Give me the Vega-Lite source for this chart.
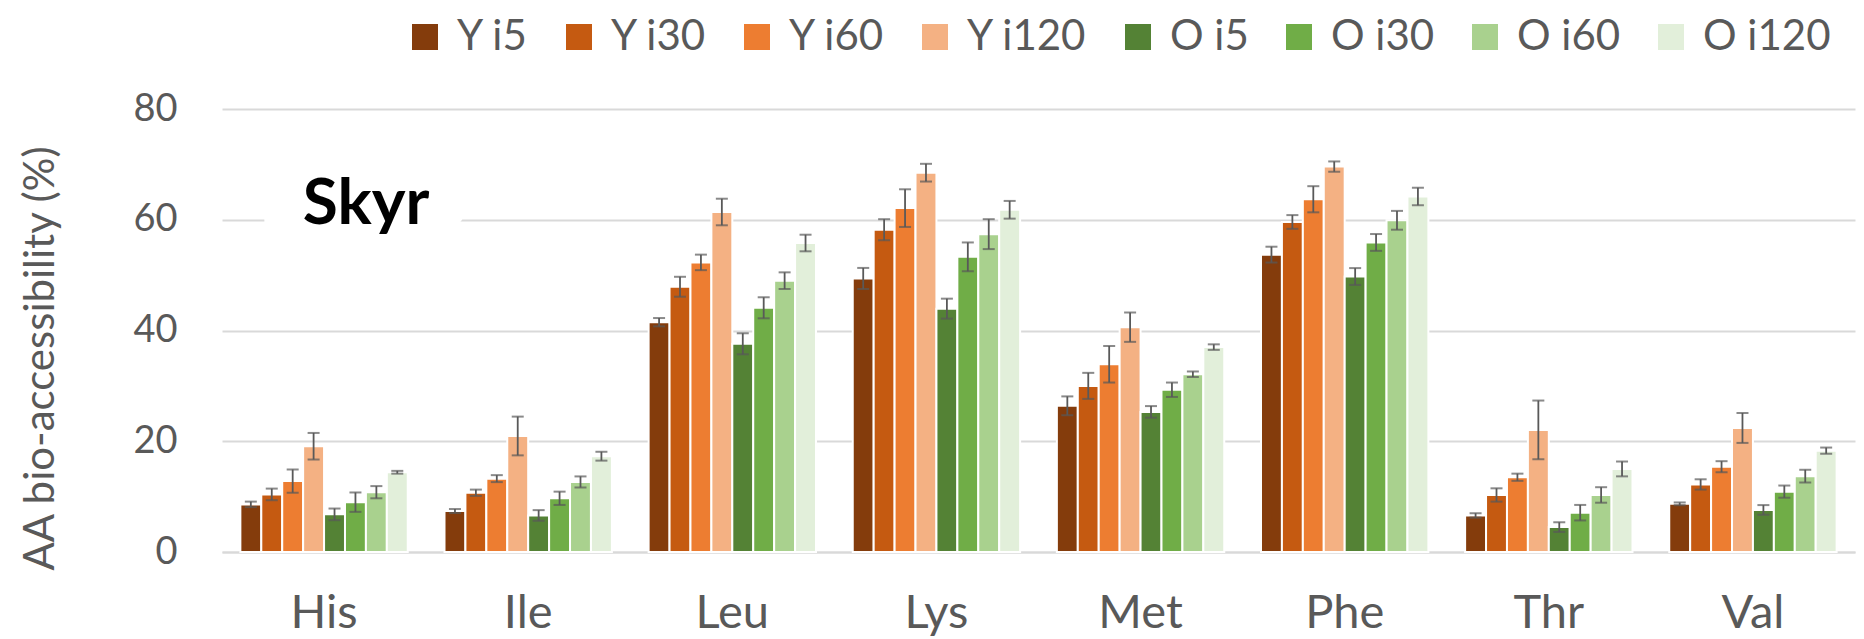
{
  "$schema": "https://vega.github.io/schema/vega-lite/v6.json",
  "width": 1633,
  "height": 443,
  "autosize": {"type": "none"},
  "padding": {"left": 222, "top": 109, "right": 9, "bottom": 87},
  "background": "white",
  "config": {"view": {"stroke": null}, "font": "Lato"},
  "data": {
    "values": [
      {"aa": "His", "s": "Y i5", "v": 8.6, "lo": 8.1, "hi": 9.1},
      {"aa": "His", "s": "Y i30", "v": 10.4, "lo": 9.35, "hi": 11.45},
      {"aa": "His", "s": "Y i60", "v": 12.8, "lo": 10.7, "hi": 14.9},
      {"aa": "His", "s": "Y i120", "v": 19.1, "lo": 16.7, "hi": 21.5},
      {"aa": "His", "s": "O i5", "v": 6.8, "lo": 5.75, "hi": 7.85},
      {"aa": "His", "s": "O i30", "v": 9.0, "lo": 7.25, "hi": 10.75},
      {"aa": "His", "s": "O i60", "v": 10.8, "lo": 9.7, "hi": 11.9},
      {"aa": "His", "s": "O i120", "v": 14.4, "lo": 14.15, "hi": 14.65},
      {"aa": "Ile", "s": "Y i5", "v": 7.4, "lo": 7.04, "hi": 7.76},
      {"aa": "Ile", "s": "Y i30", "v": 10.7, "lo": 10.13, "hi": 11.27},
      {"aa": "Ile", "s": "Y i60", "v": 13.25, "lo": 12.62, "hi": 13.88},
      {"aa": "Ile", "s": "Y i120", "v": 20.95, "lo": 17.45, "hi": 24.45},
      {"aa": "Ile", "s": "O i5", "v": 6.6, "lo": 5.64, "hi": 7.56},
      {"aa": "Ile", "s": "O i30", "v": 9.7, "lo": 8.5, "hi": 10.9},
      {"aa": "Ile", "s": "O i60", "v": 12.65, "lo": 11.65, "hi": 13.65},
      {"aa": "Ile", "s": "O i120", "v": 17.3, "lo": 16.5, "hi": 18.1},
      {"aa": "Leu", "s": "Y i5", "v": 41.5, "lo": 40.75, "hi": 42.25},
      {"aa": "Leu", "s": "Y i30", "v": 47.9, "lo": 46.1, "hi": 49.7},
      {"aa": "Leu", "s": "Y i60", "v": 52.3, "lo": 50.9, "hi": 53.7},
      {"aa": "Leu", "s": "Y i120", "v": 61.4, "lo": 59.0, "hi": 63.8},
      {"aa": "Leu", "s": "O i5", "v": 37.6, "lo": 35.7, "hi": 39.5},
      {"aa": "Leu", "s": "O i30", "v": 44.1, "lo": 42.2, "hi": 46.0},
      {"aa": "Leu", "s": "O i60", "v": 49.0, "lo": 47.5, "hi": 50.5},
      {"aa": "Leu", "s": "O i120", "v": 55.8, "lo": 54.3, "hi": 57.3},
      {"aa": "Lys", "s": "Y i5", "v": 49.4, "lo": 47.5, "hi": 51.3},
      {"aa": "Lys", "s": "Y i30", "v": 58.2, "lo": 56.3, "hi": 60.1},
      {"aa": "Lys", "s": "Y i60", "v": 62.1, "lo": 58.7, "hi": 65.5},
      {"aa": "Lys", "s": "Y i120", "v": 68.5, "lo": 66.9, "hi": 70.1},
      {"aa": "Lys", "s": "O i5", "v": 43.95, "lo": 42.15, "hi": 45.75},
      {"aa": "Lys", "s": "O i30", "v": 53.3, "lo": 50.7, "hi": 55.9},
      {"aa": "Lys", "s": "O i60", "v": 57.4, "lo": 54.7, "hi": 60.1},
      {"aa": "Lys", "s": "O i120", "v": 61.8, "lo": 60.2, "hi": 63.4},
      {"aa": "Met", "s": "Y i5", "v": 26.4, "lo": 24.7, "hi": 28.1},
      {"aa": "Met", "s": "Y i30", "v": 30.0, "lo": 27.65, "hi": 32.35},
      {"aa": "Met", "s": "Y i60", "v": 33.9, "lo": 30.6, "hi": 37.2},
      {"aa": "Met", "s": "Y i120", "v": 40.6, "lo": 37.95, "hi": 43.25},
      {"aa": "Met", "s": "O i5", "v": 25.3, "lo": 24.25, "hi": 26.35},
      {"aa": "Met", "s": "O i30", "v": 29.3, "lo": 28.0, "hi": 30.6},
      {"aa": "Met", "s": "O i60", "v": 32.1, "lo": 31.6, "hi": 32.6},
      {"aa": "Met", "s": "O i120", "v": 37.0, "lo": 36.5, "hi": 37.5},
      {"aa": "Phe", "s": "Y i5", "v": 53.7, "lo": 52.27, "hi": 55.13},
      {"aa": "Phe", "s": "Y i30", "v": 59.6, "lo": 58.36, "hi": 60.84},
      {"aa": "Phe", "s": "Y i60", "v": 63.7, "lo": 61.34, "hi": 66.06},
      {"aa": "Phe", "s": "Y i120", "v": 69.6, "lo": 68.67, "hi": 70.53},
      {"aa": "Phe", "s": "O i5", "v": 49.75, "lo": 48.23, "hi": 51.27},
      {"aa": "Phe", "s": "O i30", "v": 55.9, "lo": 54.38, "hi": 57.42},
      {"aa": "Phe", "s": "O i60", "v": 59.9, "lo": 58.2, "hi": 61.6},
      {"aa": "Phe", "s": "O i120", "v": 64.2, "lo": 62.62, "hi": 65.78},
      {"aa": "Thr", "s": "Y i5", "v": 6.6, "lo": 6.2, "hi": 7.0},
      {"aa": "Thr", "s": "Y i30", "v": 10.3, "lo": 9.1, "hi": 11.5},
      {"aa": "Thr", "s": "Y i60", "v": 13.5, "lo": 12.85, "hi": 14.15},
      {"aa": "Thr", "s": "Y i120", "v": 22.05, "lo": 16.75, "hi": 27.35},
      {"aa": "Thr", "s": "O i5", "v": 4.5, "lo": 3.63, "hi": 5.37},
      {"aa": "Thr", "s": "O i30", "v": 7.1, "lo": 5.7, "hi": 8.5},
      {"aa": "Thr", "s": "O i60", "v": 10.3, "lo": 8.9, "hi": 11.7},
      {"aa": "Thr", "s": "O i120", "v": 15.0, "lo": 13.66, "hi": 16.34},
      {"aa": "Val", "s": "Y i5", "v": 8.7, "lo": 8.45, "hi": 8.95},
      {"aa": "Val", "s": "Y i30", "v": 12.2, "lo": 11.27, "hi": 13.13},
      {"aa": "Val", "s": "Y i60", "v": 15.4, "lo": 14.4, "hi": 16.4},
      {"aa": "Val", "s": "Y i120", "v": 22.4, "lo": 19.7, "hi": 25.1},
      {"aa": "Val", "s": "O i5", "v": 7.6, "lo": 6.73, "hi": 8.47},
      {"aa": "Val", "s": "O i30", "v": 10.9, "lo": 9.8, "hi": 12.0},
      {"aa": "Val", "s": "O i60", "v": 13.7, "lo": 12.55, "hi": 14.85},
      {"aa": "Val", "s": "O i120", "v": 18.3, "lo": 17.74, "hi": 18.86}
    ]
  },
  "layer": [
    {
      "mark": {"type": "bar", "stroke": "white", "strokeWidth": 2},
      "encoding": {
        "x": {"field": "aa", "type": "nominal", "title": null,
          "scale": {"paddingInner": 0.18, "paddingOuter": 0.09},
          "axis": {"labelAngle": 0, "labelFontSize": 47, "labelColor": "#595959", "labelPadding": 38, "ticks": false, "domain": true, "domainColor": "#D9D9D9", "domainWidth": 2}},
        "xOffset": {"field": "s", "type": "nominal", "sort": ["Y i5", "Y i30", "Y i60", "Y i120", "O i5", "O i30", "O i60", "O i120"]},
        "y": {"field": "v", "type": "quantitative", "title": "AA bio-accessibility (%)",
          "scale": {"domain": [0, 80]},
          "axis": {"values": [0, 20, 40, 60, 80], "grid": true, "gridColor": "#D9D9D9", "gridWidth": 2, "domain": false, "ticks": false,
            "labelFontSize": 38, "labelColor": "#595959", "labelPadding": 45,
            "titleFontSize": 42, "titleFontWeight": "normal", "titleColor": "#595959",
            "titleX": -182, "titleY": 249, "titleAlign": "center", "titleBaseline": "middle", "titleAngle": -90}},
        "color": {"field": "s", "type": "nominal",
          "scale": {"domain": ["Y i5", "Y i30", "Y i60", "Y i120", "O i5", "O i30", "O i60", "O i120"],
            "range": ["#843C0C", "#C55A11", "#ED7D31", "#F4B183", "#548235", "#70AD47", "#A9D18E", "#E2EFDA"]},
          "legend": {"orient": "none", "legendX": 182, "legendY": -93, "direction": "horizontal", "columns": 8, "title": null,
            "symbolType": "square", "symbolSize": 676, "symbolStrokeWidth": 0, "labelFontSize": 42, "labelColor": "#595959",
            "labelOffset": 11, "columnPadding": 29}}
      }
    },
    {
      "mark": {"type": "rule", "color": "#595959", "strokeWidth": 1.8},
      "encoding": {
        "x": {"field": "aa", "type": "nominal"},
        "xOffset": {"field": "s", "type": "nominal", "sort": ["Y i5", "Y i30", "Y i60", "Y i120", "O i5", "O i30", "O i60", "O i120"]},
        "y": {"field": "lo", "type": "quantitative"},
        "y2": {"field": "hi"}
      }
    },
    {
      "mark": {"type": "tick", "color": "#595959", "thickness": 2, "size": 12, "orient": "horizontal"},
      "encoding": {
        "x": {"field": "aa", "type": "nominal"},
        "xOffset": {"field": "s", "type": "nominal", "sort": ["Y i5", "Y i30", "Y i60", "Y i120", "O i5", "O i30", "O i60", "O i120"]},
        "y": {"field": "lo", "type": "quantitative"}
      }
    },
    {
      "mark": {"type": "tick", "color": "#595959", "thickness": 2, "size": 12, "orient": "horizontal"},
      "encoding": {
        "x": {"field": "aa", "type": "nominal"},
        "xOffset": {"field": "s", "type": "nominal", "sort": ["Y i5", "Y i30", "Y i60", "Y i120", "O i5", "O i30", "O i60", "O i120"]},
        "y": {"field": "hi", "type": "quantitative"}
      }
    },
    {
      "data": {"values": [{"label": "Skyr"}]},
      "mark": {"type": "text", "fontSize": 64, "fontWeight": "bold", "color": "white", "stroke": "white", "strokeWidth": 80, "strokeJoin": "round", "dx": 42, "baseline": "alphabetic", "align": "center"},
      "encoding": {
        "x": {"datum": "His", "type": "nominal"},
        "y": {"datum": 59.2, "type": "quantitative"},
        "text": {"field": "label"}
      }
    },
    {
      "data": {"values": [{"label": "Skyr"}]},
      "mark": {"type": "text", "fontSize": 64, "fontWeight": "bold", "color": "black", "dx": 42, "baseline": "alphabetic", "align": "center"},
      "encoding": {
        "x": {"datum": "His", "type": "nominal"},
        "y": {"datum": 59.2, "type": "quantitative"},
        "text": {"field": "label"}
      }
    }
  ]
}
